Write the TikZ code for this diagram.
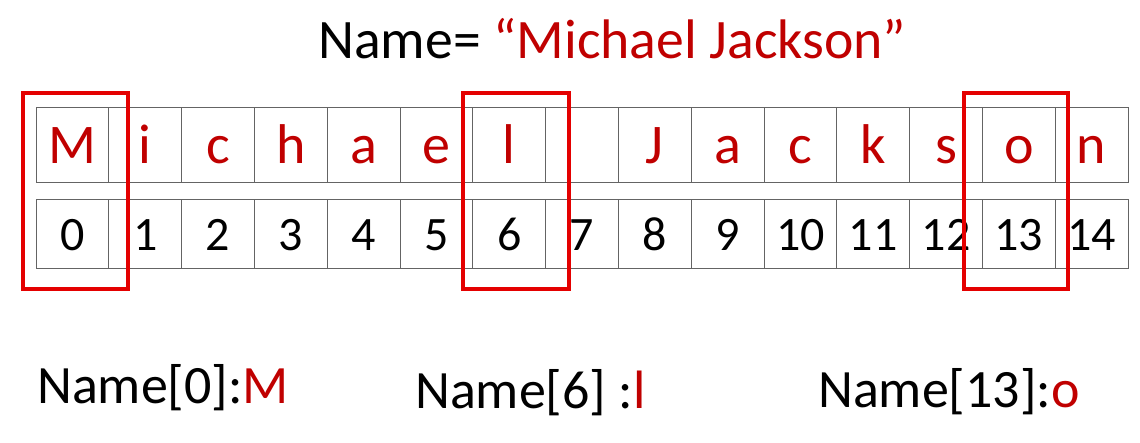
\documentclass[tikz,border=0pt]{standalone}
\usepackage{fontspec}
\setmainfont{Carlito}
\definecolor{darkred}{RGB}{192,0,0}
\definecolor{boxred}{RGB}{228,0,0}
\definecolor{gridgray}{RGB}{100,100,100}
\begin{document}
\begin{tikzpicture}[x=1pt,y=-1pt,
  lettercell/.style={draw=gridgray,line width=0.9pt,minimum width=72.8pt,minimum height=75pt,inner sep=0pt,text height=37pt,text depth=0pt,text=darkred,font=\fontsize{56}{60}\selectfont},
  numcell/.style={draw=gridgray,line width=0.9pt,minimum width=72.8pt,minimum height=69pt,inner sep=0pt,text height=33pt,text depth=0pt,text=black,font=\fontsize{48}{52}\selectfont},
  redbox/.style={draw=boxred,line width=4pt},
  titletext/.style={anchor=base west,inner sep=0pt,font=\fontsize{55.7}{60}\selectfont},
  bigtext/.style={anchor=base west,inner sep=0pt,font=\fontsize{54}{58}\selectfont}]
\useasboundingbox[fill=white] (0,0) rectangle (1140,442);
% title
\node[titletext] (title) at (318,58) {Name= \textcolor{darkred}{\char"201CMichael Jackson\char"201D}};
% cells
\foreach \ch [count=\i from 0] in {M,i,c,h,a,e,l,{},J,a,c,k,s,o,n}{
  \node[lettercell] (t\i) at ({36+72.8*(\i+0.5)},144.5) {\ch};
  \node[numcell] (b\i) at ({36+72.8*(\i+0.5)},233.5) {\i};
}
% red highlight boxes
\draw[redbox] (23,93) rectangle (128,289);
\draw[redbox] (463,93) rectangle (569,289);
\draw[redbox] (964,93) rectangle (1068,289);
% bottom labels
\node[bigtext] (n0) at (37,403) {Name[0]:\textcolor{darkred}{M}};
\node[bigtext] (n6) at (415,408) {Name[6] :\textcolor{darkred}{l}};
\node[bigtext] (n13) at (818,407) {Name[13]:\textcolor{darkred}{o}};
\end{tikzpicture}
\end{document}
